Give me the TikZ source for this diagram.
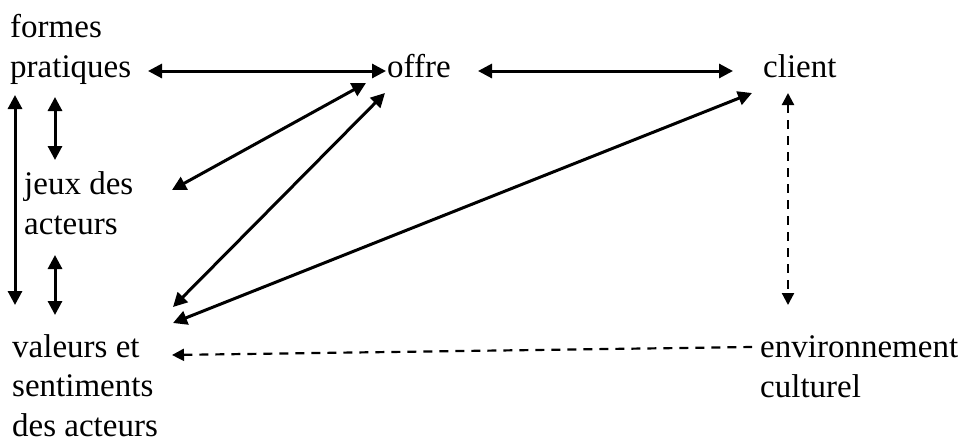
\documentclass[tikz,border=0pt]{standalone}
\usepackage{fontspec}
\setmainfont{Liberation Serif}
\usetikzlibrary{arrows.meta}
\begin{document}
\begin{tikzpicture}[x=1pt,y=-1pt,
  lbl/.style={inner sep=0pt, anchor=base west, align=left, font=\fontsize{33}{39.5}\selectfont},
  link/.style={line width=3pt, {Triangle[length=14pt,width=14pt]}-{Triangle[length=14pt,width=14pt]}},
  dlink/.style={line width=2.2pt, dash pattern=on 9pt off 7pt, {Triangle[length=12pt,width=12pt]}-{Triangle[length=12pt,width=12pt]}},
  dlinkone/.style={line width=2.2pt, dash pattern=on 9pt off 7pt, {Triangle[length=12pt,width=12pt]}-}]
\useasboundingbox (0,0) rectangle (960,440);
\node[lbl] (fp) at (10,77) {formes\\pratiques};
\node[lbl] (offre) at (387,77) {offre};
\node[lbl] (client) at (763,77) {client};
\node[lbl] (jeux) at (24,234) {jeux des\\acteurs};
\node[lbl] (val) at (12,436) {valeurs et\\sentiments\\des acteurs};
\node[lbl] (env) at (760,397) {environnement\\culturel};
% solid links
\draw[link] ([shift={(138,-6)}]fp.base west) -- ([shift={(-1,-6)}]offre.base west);
\draw[link] ([shift={(91,-6)}]offre.base west) -- ([shift={(-30,-6)}]client.base west);
\draw[link] ([shift={(5,18)}]fp.base west) -- ([shift={(3,-131)}]val.base west);
\draw[link] ([shift={(45,20)}]fp.base west) -- ([shift={(31,-74)}]jeux.base west);
\draw[link] ([shift={(31,21)}]jeux.base west) -- ([shift={(43,-121)}]val.base west);
\draw[link] ([shift={(148,-44)}]jeux.base west) -- ([shift={(-21,6)}]offre.base west);
\draw[link] ([shift={(161,-129)}]val.base west) -- ([shift={(-2,16)}]offre.base west);
\draw[link] ([shift={(161,-113)}]val.base west) -- ([shift={(-11,16)}]client.base west);
% dashed links
\draw[dlink] ([shift={(25,16)}]client.base west) -- ([shift={(28,-92)}]env.base west);
\draw[dlinkone] ([shift={(160,-81)}]val.base west) -- ([shift={(-8,-50)}]env.base west);
\end{tikzpicture}
\end{document}
